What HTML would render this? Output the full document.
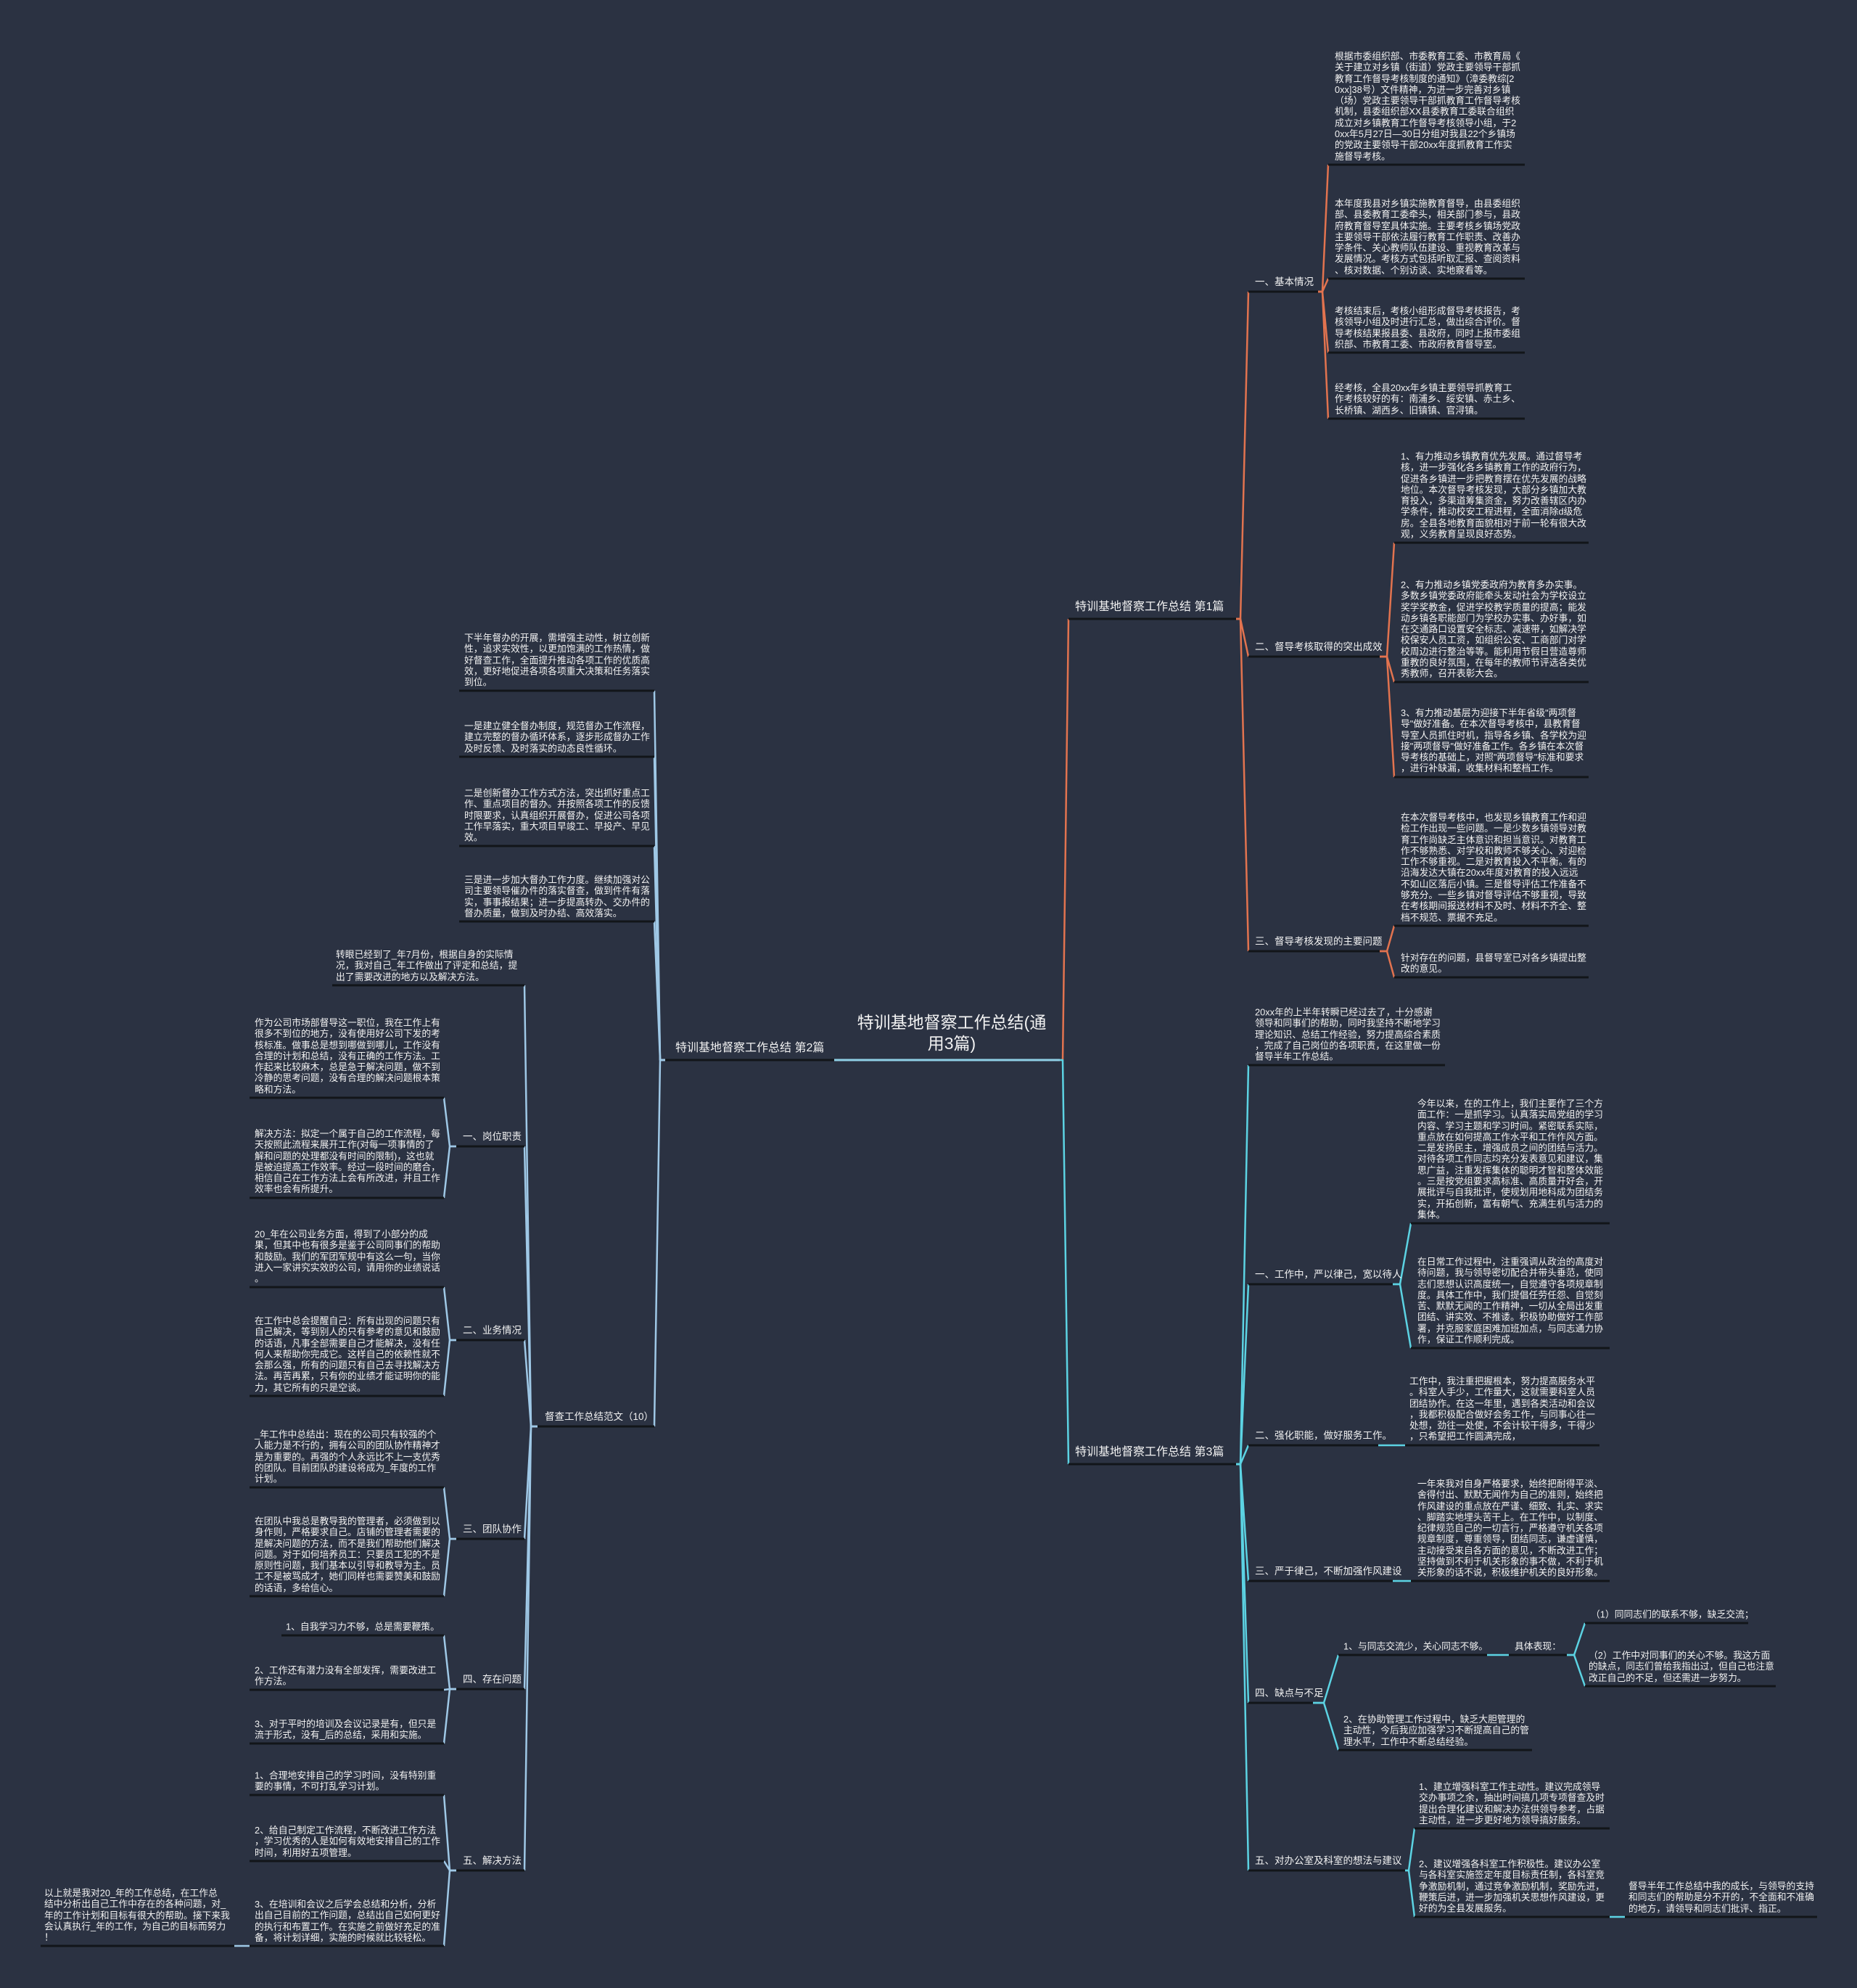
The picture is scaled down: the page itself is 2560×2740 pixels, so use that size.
<!DOCTYPE html>
<html><head><meta charset="utf-8">
<style>
html,body{margin:0;padding:0;}
body{width:2560px;height:2740px;background:#2b3242;position:relative;overflow:hidden;font-family:"Liberation Sans","Noto Sans CJK SC",sans-serif;color:#f2f2f2;}
.t{position:absolute;transform:translateY(-100%);padding-bottom:4px;font-size:12.8px;line-height:15.3px;white-space:nowrap;}
.s{position:absolute;transform:translateY(-100%);padding-bottom:5px;font-size:13.5px;line-height:16px;white-space:nowrap;}
.b{position:absolute;transform:translateY(-100%);padding-bottom:6px;font-size:16px;line-height:20px;white-space:nowrap;}
.r{position:absolute;transform:translateY(-100%);padding-bottom:8px;font-size:23px;line-height:29px;text-align:center;width:300px;}
svg{position:absolute;left:0;top:0;}
</style></head><body>
<svg width="2560" height="2740" viewBox="0 0 2560 2740">
<g fill="none" stroke-width="2.5" stroke-linejoin="round">
<g stroke="#e2734f">
<path d="M1461 1461 H1465 L1473 853"/>
<path d="M1704 853 H1710 L1721 402"/><path d="M1704 853 H1710 L1721 905"/><path d="M1704 853 H1710 L1721 1311"/>
<path d="M1817 402 H1823 L1831 227"/><path d="M1817 402 H1823 L1831 384"/><path d="M1817 402 H1823 L1831 486"/><path d="M1817 402 H1823 L1831 577"/>
<path d="M1902 905 H1912 L1922 748"/><path d="M1902 905 H1912 L1922 940"/><path d="M1902 905 H1912 L1922 1071"/>
<path d="M1902 1311 H1912 L1922 1276"/><path d="M1902 1311 H1912 L1922 1347"/>
</g>
<g stroke="#5cd3e3">
<path d="M1461 1461 H1465 L1473 2018"/>
<path d="M1704 2018 H1710 L1721 1468"/><path d="M1704 2018 H1710 L1721 1770"/><path d="M1704 2018 H1710 L1721 1992"/><path d="M1704 2018 H1710 L1721 2179"/><path d="M1704 2018 H1710 L1721 2347"/><path d="M1704 2018 H1710 L1721 2578"/>
<path d="M1920 1770 H1930 L1945 1686"/><path d="M1920 1770 H1930 L1945 1858"/>
<path d="M1900 1992 H1937"/>
<path d="M1920 2179 H1945"/>
<path d="M1810 2347 H1825 L1845 2281"/><path d="M1810 2347 H1825 L1845 2412"/>
<path d="M2050 2281 H2080"/>
<path d="M2160 2281 H2170 L2185 2237"/><path d="M2160 2281 H2170 L2185 2324"/>
<path d="M1937 2578 H1942 L1950 2520"/><path d="M1937 2578 H1942 L1950 2642"/>
<path d="M2219 2642 H2240"/>
</g>
<g stroke="#9fc8e6">
<path d="M1150 1461 H1461" stroke="#8fd0e6" stroke-width="3"/>
<path d="M917 1461 H910 L902 952"/><path d="M917 1461 H910 L902 1043"/><path d="M917 1461 H910 L902 1166"/><path d="M917 1461 H910 L902 1270"/><path d="M917 1461 H910 L902 1966"/>
<path d="M741 1966 H732 L723 1358"/><path d="M741 1966 H732 L723 1580"/><path d="M741 1966 H732 L723 1847"/><path d="M741 1966 H732 L723 2121"/><path d="M741 1966 H732 L723 2328"/><path d="M741 1966 H732 L723 2578"/>
<path d="M629 1580 H620 L612 1513"/><path d="M629 1580 H620 L612 1651"/>
<path d="M629 1847 H620 L612 1774"/><path d="M629 1847 H620 L612 1924"/>
<path d="M629 2121 H620 L612 2050"/><path d="M629 2121 H620 L612 2200"/>
<path d="M629 2328 H620 L612 2254"/><path d="M629 2328 H620 L612 2329"/><path d="M629 2328 H620 L612 2403"/>
<path d="M629 2578 H620 L612 2474"/><path d="M629 2578 H620 L612 2565"/><path d="M629 2578 H620 L612 2682"/>
<path d="M344 2682 H323"/>
</g>
</g>
<g stroke="#121519" stroke-width="3">
<path d="M1473 853 H1704"/><path d="M1473 2018 H1704"/><path d="M917 1461 H1150"/>
<path d="M1721 402 H1817"/><path d="M1721 905 H1902"/><path d="M1721 1311 H1902"/>
<path d="M1831 227 H2102"/><path d="M1831 384 H2102"/><path d="M1831 486 H2102"/><path d="M1831 577 H2102"/>
<path d="M1922 748 H2190"/><path d="M1922 940 H2190"/><path d="M1922 1071 H2190"/><path d="M1922 1276 H2190"/><path d="M1922 1347 H2190"/>
<path d="M1721 1468 H1992"/><path d="M1721 1770 H1920"/><path d="M1945 1686 H2219"/><path d="M1945 1858 H2219"/>
<path d="M1721 1992 H1900"/><path d="M1937 1992 H2205"/>
<path d="M1721 2179 H1920"/><path d="M1945 2179 H2219"/>
<path d="M1721 2347 H1810"/><path d="M1845 2281 H2050"/><path d="M2080 2281 H2160"/><path d="M2185 2237 H2410"/><path d="M2185 2324 H2448"/><path d="M1845 2412 H2112"/>
<path d="M1721 2578 H1937"/><path d="M1950 2520 H2219"/><path d="M1950 2642 H2219"/><path d="M2240 2642 H2505"/>
<path d="M633 952 H902"/><path d="M633 1043 H902"/><path d="M633 1166 H902"/><path d="M633 1270 H902"/><path d="M741 1966 H902"/>
<path d="M458 1358 H723"/><path d="M629 1580 H723"/><path d="M629 1847 H723"/><path d="M629 2121 H723"/><path d="M629 2328 H723"/><path d="M629 2578 H723"/>
<path d="M344 1513 H612"/><path d="M344 1651 H612"/><path d="M344 1774 H612"/><path d="M344 1924 H612"/><path d="M344 2050 H612"/><path d="M344 2200 H612"/>
<path d="M388 2254 H612"/><path d="M344 2329 H612"/><path d="M344 2403 H612"/><path d="M344 2474 H612"/><path d="M344 2565 H612"/><path d="M344 2682 H612"/>
<path d="M56 2682 H323"/>
</g>
</svg>

<div class="r" style="left:1162px;top:1461px;">特训基地督察工作总结(通<br>用3篇)</div>
<div class="b" style="left:1482px;top:853px;">特训基地督察工作总结 第1篇</div>
<div class="b" style="left:1482px;top:2018px;">特训基地督察工作总结 第3篇</div>
<div class="b" style="left:931px;top:1461px;">特训基地督察工作总结 第2篇</div>

<div class="s" style="left:1730px;top:402px;">一、基本情况</div>
<div class="s" style="left:1730px;top:905px;">二、督导考核取得的突出成效</div>
<div class="s" style="left:1730px;top:1311px;">三、督导考核发现的主要问题</div>
<div class="t" style="left:1840px;top:227px;">根据市委组织部、市委教育工委、市教育局《<br>关于建立对乡镇（街道）党政主要领导干部抓<br>教育工作督导考核制度的通知》（漳委教综[2<br>0xx]38号）文件精神，为进一步完善对乡镇<br>（场）党政主要领导干部抓教育工作督导考核<br>机制，县委组织部XX县委教育工委联合组织<br>成立对乡镇教育工作督导考核领导小组，于2<br>0xx年5月27日—30日分组对我县22个乡镇场<br>的党政主要领导干部20xx年度抓教育工作实<br>施督导考核。</div>
<div class="t" style="left:1840px;top:384px;">本年度我县对乡镇实施教育督导，由县委组织<br>部、县委教育工委牵头，相关部门参与，县政<br>府教育督导室具体实施。主要考核乡镇场党政<br>主要领导干部依法履行教育工作职责、改善办<br>学条件、关心教师队伍建设、重视教育改革与<br>发展情况。考核方式包括听取汇报、查阅资料<br>、核对数据、个别访谈、实地察看等。</div>
<div class="t" style="left:1840px;top:486px;">考核结束后，考核小组形成督导考核报告，考<br>核领导小组及时进行汇总，做出综合评价。督<br>导考核结果报县委、县政府，同时上报市委组<br>织部、市教育工委、市政府教育督导室。</div>
<div class="t" style="left:1840px;top:577px;">经考核，全县20xx年乡镇主要领导抓教育工<br>作考核较好的有：南浦乡、绥安镇、赤土乡、<br>长桥镇、湖西乡、旧镇镇、官浔镇。</div>
<div class="t" style="left:1931px;top:748px;">1、有力推动乡镇教育优先发展。通过督导考<br>核，进一步强化各乡镇教育工作的政府行为，<br>促进各乡镇进一步把教育摆在优先发展的战略<br>地位。本次督导考核发现，大部分乡镇加大教<br>育投入，多渠道筹集资金，努力改善辖区内办<br>学条件，推动校安工程进程，全面消除d级危<br>房。全县各地教育面貌相对于前一轮有很大改<br>观，义务教育呈现良好态势。</div>
<div class="t" style="left:1931px;top:940px;">2、有力推动乡镇党委政府为教育多办实事。<br>多数乡镇党委政府能牵头发动社会为学校设立<br>奖学奖教金，促进学校教学质量的提高；能发<br>动乡镇各职能部门为学校办实事、办好事，如<br>在交通路口设置安全标志、减速带，如解决学<br>校保安人员工资，如组织公安、工商部门对学<br>校周边进行整治等等。能利用节假日营造尊师<br>重教的良好氛围，在每年的教师节评选各类优<br>秀教师，召开表彰大会。</div>
<div class="t" style="left:1931px;top:1071px;">3、有力推动基层为迎接下半年省级"两项督<br>导"做好准备。在本次督导考核中，县教育督<br>导室人员抓住时机，指导各乡镇、各学校为迎<br>接"两项督导"做好准备工作。各乡镇在本次督<br>导考核的基础上，对照"两项督导"标准和要求<br>，进行补缺漏，收集材料和整档工作。</div>
<div class="t" style="left:1931px;top:1276px;">在本次督导考核中，也发现乡镇教育工作和迎<br>检工作出现一些问题。一是少数乡镇领导对教<br>育工作尚缺乏主体意识和担当意识。对教育工<br>作不够熟悉、对学校和教师不够关心、对迎检<br>工作不够重视。二是对教育投入不平衡。有的<br>沿海发达大镇在20xx年度对教育的投入远远<br>不如山区落后小镇。三是督导评估工作准备不<br>够充分。一些乡镇对督导评估不够重视，导致<br>在考核期间报送材料不及时、材料不齐全、整<br>档不规范、票据不充足。</div>
<div class="t" style="left:1931px;top:1347px;">针对存在的问题，县督导室已对各乡镇提出整<br>改的意见。</div>

<div class="t" style="left:1730px;top:1468px;">20xx年的上半年转瞬已经过去了，十分感谢<br>领导和同事们的帮助，同时我坚持不断地学习<br>理论知识、总结工作经验，努力提高综合素质<br>，完成了自己岗位的各项职责，在这里做一份<br>督导半年工作总结。</div>
<div class="s" style="left:1730px;top:1770px;">一、工作中，严以律己，宽以待人</div>
<div class="s" style="left:1730px;top:1992px;">二、强化职能，做好服务工作。</div>
<div class="s" style="left:1730px;top:2179px;">三、严于律己，不断加强作风建设</div>
<div class="s" style="left:1730px;top:2347px;">四、缺点与不足</div>
<div class="s" style="left:1730px;top:2578px;">五、对办公室及科室的想法与建议</div>
<div class="t" style="left:1954px;top:1686px;">今年以来，在的工作上，我们主要作了三个方<br>面工作：一是抓学习。认真落实局党组的学习<br>内容、学习主题和学习时间。紧密联系实际，<br>重点放在如何提高工作水平和工作作风方面。<br>二是发扬民主，增强成员之间的团结与活力。<br>对待各项工作同志均充分发表意见和建议，集<br>思广益，注重发挥集体的聪明才智和整体效能<br>。三是按党组要求高标准、高质量开好会，开<br>展批评与自我批评，使规划用地科成为团结务<br>实，开拓创新，富有朝气、充满生机与活力的<br>集体。</div>
<div class="t" style="left:1954px;top:1858px;">在日常工作过程中，注重强调从政治的高度对<br>待问题，我与领导密切配合并带头垂范，使同<br>志们思想认识高度统一，自觉遵守各项规章制<br>度。具体工作中，我们提倡任劳任怨、自觉刻<br>苦、默默无闻的工作精神，一切从全局出发重<br>团结、讲实效、不推诿。积极协助做好工作部<br>署，并克服家庭困难加班加点，与同志通力协<br>作，保证工作顺利完成。</div>
<div class="t" style="left:1943px;top:1992px;">工作中，我注重把握根本，努力提高服务水平<br>。科室人手少，工作量大，这就需要科室人员<br>团结协作。在这一年里，遇到各类活动和会议<br>，我都积极配合做好会务工作，与同事心往一<br>处想，劲往一处使，不会计较干得多，干得少<br>，只希望把工作圆满完成，</div>
<div class="t" style="left:1954px;top:2179px;">一年来我对自身严格要求，始终把耐得平淡、<br>舍得付出、默默无闻作为自己的准则，始终把<br>作风建设的重点放在严谨、细致、扎实、求实<br>、脚踏实地埋头苦干上。在工作中，以制度、<br>纪律规范自己的一切言行，严格遵守机关各项<br>规章制度，尊重领导，团结同志，谦虚谨慎，<br>主动接受来自各方面的意见，不断改进工作；<br>坚持做到不利于机关形象的事不做，不利于机<br>关形象的话不说，积极维护机关的良好形象。</div>
<div class="t" style="left:1852px;top:2281px;">1、与同志交流少，关心同志不够。</div>
<div class="t" style="left:2088px;top:2281px;">具体表现：</div>
<div class="t" style="left:2193px;top:2237px;">（1）同同志们的联系不够，缺乏交流；</div>
<div class="t" style="left:2190px;top:2324px;">（2）工作中对同事们的关心不够。我这方面<br>的缺点，同志们曾给我指出过，但自己也注意<br>改正自己的不足，但还需进一步努力。</div>
<div class="t" style="left:1852px;top:2412px;">2、在协助管理工作过程中，缺乏大胆管理的<br>主动性，今后我应加强学习不断提高自己的管<br>理水平，工作中不断总结经验。</div>
<div class="t" style="left:1956px;top:2520px;">1、建立增强科室工作主动性。建议完成领导<br>交办事项之余，抽出时间搞几项专项督查及时<br>提出合理化建议和解决办法供领导参考，占据<br>主动性，进一步更好地为领导搞好服务。</div>
<div class="t" style="left:1956px;top:2642px;">2、建议增强各科室工作积极性。建议办公室<br>与各科室实施签定年度目标责任制，各科室竞<br>争激励机制，通过竞争激励机制，奖励先进，<br>鞭策后进，进一步加强机关思想作风建设，更<br>好的为全县发展服务。</div>
<div class="t" style="left:2245px;top:2642px;">督导半年工作总结中我的成长，与领导的支持<br>和同志们的帮助是分不开的，不全面和不准确<br>的地方，请领导和同志们批评、指正。</div>

<div class="t" style="left:640px;top:952px;">下半年督办的开展，需增强主动性，树立创新<br>性，追求实效性，以更加饱满的工作热情，做<br>好督查工作，全面提升推动各项工作的优质高<br>效，更好地促进各项各项重大决策和任务落实<br>到位。</div>
<div class="t" style="left:640px;top:1043px;">一是建立健全督办制度，规范督办工作流程，<br>建立完整的督办循环体系，逐步形成督办工作<br>及时反馈、及时落实的动态良性循环。</div>
<div class="t" style="left:640px;top:1166px;">二是创新督办工作方式方法，突出抓好重点工<br>作、重点项目的督办。并按照各项工作的反馈<br>时限要求，认真组织开展督办，促进公司各项<br>工作早落实，重大项目早竣工、早投产、早见<br>效。</div>
<div class="t" style="left:640px;top:1270px;">三是进一步加大督办工作力度。继续加强对公<br>司主要领导催办件的落实督查，做到件件有落<br>实，事事报结果；进一步提高转办、交办件的<br>督办质量，做到及时办结、高效落实。</div>
<div class="s" style="left:751px;top:1966px;">督查工作总结范文（10）</div>
<div class="t" style="left:463px;top:1358px;">转眼已经到了_年7月份，根据自身的实际情<br>况，我对自己_年工作做出了评定和总结，提<br>出了需要改进的地方以及解决方法。</div>
<div class="s" style="left:638px;top:1580px;">一、岗位职责</div>
<div class="s" style="left:638px;top:1847px;">二、业务情况</div>
<div class="s" style="left:638px;top:2121px;">三、团队协作</div>
<div class="s" style="left:638px;top:2328px;">四、存在问题</div>
<div class="s" style="left:638px;top:2578px;">五、解决方法</div>
<div class="t" style="left:351px;top:1513px;">作为公司市场部督导这一职位，我在工作上有<br>很多不到位的地方，没有使用好公司下发的考<br>核标准。做事总是想到哪做到哪儿，工作没有<br>合理的计划和总结，没有正确的工作方法。工<br>作起来比较麻木，总是急于解决问题，做不到<br>冷静的思考问题，没有合理的解决问题根本策<br>略和方法。</div>
<div class="t" style="left:351px;top:1651px;">解决方法：拟定一个属于自己的工作流程，每<br>天按照此流程来展开工作(对每一项事情的了<br>解和问题的处理都没有时间的限制)，这也就<br>是被迫提高工作效率。经过一段时间的磨合，<br>相信自己在工作方法上会有所改进，并且工作<br>效率也会有所提升。</div>
<div class="t" style="left:351px;top:1774px;">20_年在公司业务方面，得到了小部分的成<br>果，但其中也有很多是鉴于公司同事们的帮助<br>和鼓励。我们的军团军规中有这么一句，当你<br>进入一家讲究实效的公司，请用你的业绩说话<br>。</div>
<div class="t" style="left:351px;top:1924px;">在工作中总会提醒自己：所有出现的问题只有<br>自己解决，等到别人的只有参考的意见和鼓励<br>的话语，凡事全部需要自己才能解决，没有任<br>何人来帮助你完成它。这样自己的依赖性就不<br>会那么强，所有的问题只有自己去寻找解决方<br>法。再苦再累，只有你的业绩才能证明你的能<br>力，其它所有的只是空谈。</div>
<div class="t" style="left:351px;top:2050px;">_年工作中总结出：现在的公司只有较强的个<br>人能力是不行的，拥有公司的团队协作精神才<br>是为重要的。再强的个人永远比不上一支优秀<br>的团队。目前团队的建设将成为_年度的工作<br>计划。</div>
<div class="t" style="left:351px;top:2200px;">在团队中我总是教导我的管理者，必须做到以<br>身作则，严格要求自己。店铺的管理者需要的<br>是解决问题的方法，而不是我们帮助他们解决<br>问题。对于如何培养员工：只要员工犯的不是<br>原则性问题，我们基本以引导和教导为主。员<br>工不是被骂成才，她们同样也需要赞美和鼓励<br>的话语，多给信心。</div>
<div class="t" style="left:394px;top:2254px;">1、自我学习力不够，总是需要鞭策。</div>
<div class="t" style="left:351px;top:2329px;">2、工作还有潜力没有全部发挥，需要改进工<br>作方法。</div>
<div class="t" style="left:351px;top:2403px;">3、对于平时的培训及会议记录是有，但只是<br>流于形式，没有_后的总结，采用和实施。</div>
<div class="t" style="left:351px;top:2474px;">1、合理地安排自己的学习时间，没有特别重<br>要的事情，不可打乱学习计划。</div>
<div class="t" style="left:351px;top:2565px;">2、给自己制定工作流程，不断改进工作方法<br>，学习优秀的人是如何有效地安排自己的工作<br>时间，利用好五项管理。</div>
<div class="t" style="left:351px;top:2682px;">3、在培训和会议之后学会总结和分析，分析<br>出自己目前的工作问题，总结出自己如何更好<br>的执行和布置工作。在实施之前做好充足的准<br>备，将计划详细，实施的时候就比较轻松。</div>
<div class="t" style="left:61px;top:2682px;">以上就是我对20_年的工作总结，在工作总<br>结中分析出自己工作中存在的各种问题，对_<br>年的工作计划和目标有很大的帮助。接下来我<br>会认真执行_年的工作，为自己的目标而努力<br>！</div>
</body></html>
